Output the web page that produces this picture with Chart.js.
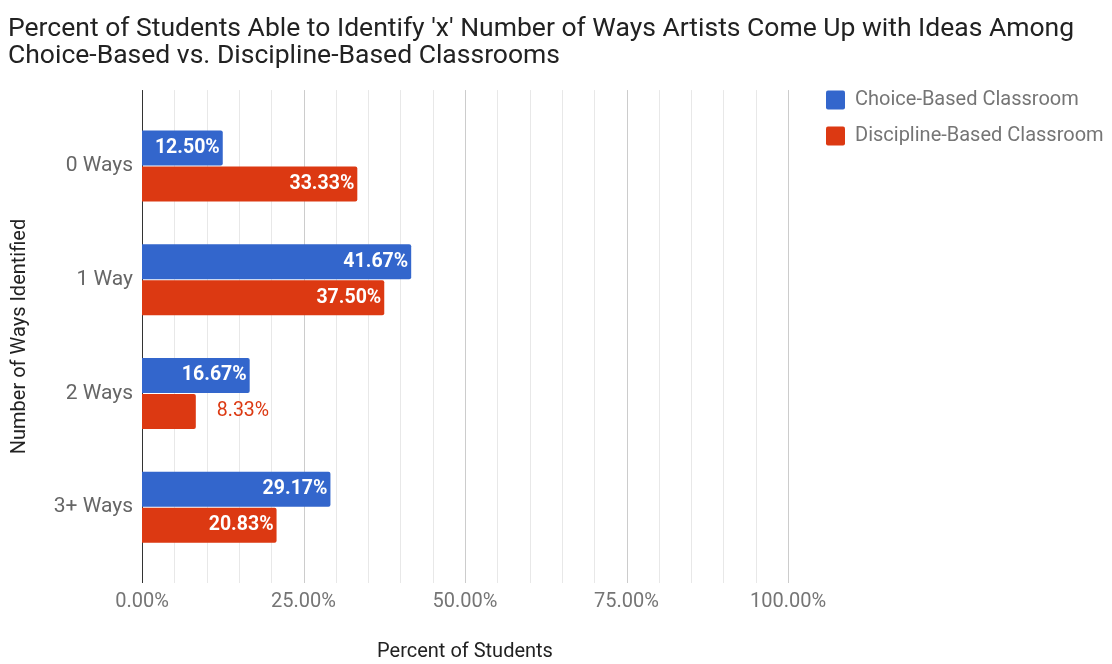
<!DOCTYPE html>
<html>
<head>
<meta charset="utf-8">
<script src="https://cdn.jsdelivr.net/npm/chart.js@4.4.1/dist/chart.umd.min.js"></script>
<style>
  html, body { margin: 0; padding: 0; background: #fff; }
  canvas { display: block; }
</style>
</head>
<body>
<canvas id="ways" width="1112" height="664"></canvas>
<script>
/* global Chart */
const categories = ['0 Ways', '1 Way', '2 Ways', '3+ Ways'];
const choiceBased = [12.5, 41.67, 16.67, 29.17];
const disciplineBased = [33.33, 37.5, 8.33, 20.83];
const seriesNames = ['Choice-Based Classroom', 'Discipline-Based Classroom'];
const seriesColors = ['#3366CC', '#DC3912'];

const LEGEND_WIDTH = 324;

Chart.defaults.font.family = 'Roboto, sans-serif';
Chart.defaults.animation = false;

// vertical grid lines, run a bit past the bar area top and bottom
const gridLines = {
  id: 'gridLines',
  beforeDatasetsDraw(chart) {
    const { ctx, chartArea, scales: { x } } = chart;
    ctx.save();
    ctx.lineWidth = 1;
    x.ticks.forEach((t) => {
      const px = Math.round(x.getPixelForValue(t.value)) + 0.5;
      if (t.value === 0) ctx.strokeStyle = '#333333';
      else if (t.value % 25 === 0) ctx.strokeStyle = '#cccccc';
      else ctx.strokeStyle = '#e8e8e8';
      ctx.beginPath();
      ctx.moveTo(px, chartArea.top - 19);
      ctx.lineTo(px, chartArea.bottom + 19);
      ctx.stroke();
    });
    ctx.restore();
  }
};

// value labels: white inside the bar, or in the series colour past its end
const barLabels = {
  id: 'barLabels',
  afterDatasetsDraw(chart) {
    const { ctx } = chart;
    ctx.save();
    ctx.textBaseline = 'middle';
    chart.data.datasets.forEach((ds, i) => {
      chart.getDatasetMeta(i).data.forEach((bar, j) => {
        const text = ds.data[j].toFixed(2) + '%';
        ctx.font = 'bold 19.5px Roboto';
        const w = ctx.measureText(text).width;
        if (w + 10 < bar.x - bar.base) {
          ctx.fillStyle = '#ffffff';
          ctx.textAlign = 'right';
          ctx.fillText(text, bar.x - 3, bar.y);
        } else {
          ctx.font = '19.5px Roboto';
          ctx.fillStyle = ds.backgroundColor;
          ctx.textAlign = 'left';
          ctx.fillText(text, bar.x + 21, bar.y);
        }
      });
    });
    ctx.restore();
  }
};

// fixed-width legend column, pinned beside the top of the plot
const legendPlace = {
  id: 'legendPlace',
  afterInit(chart) {
    const lg = chart.legend;
    const fit = lg.fit;
    lg.fit = function () {
      fit.call(this);
      this.width = LEGEND_WIDTH;
    };
  },
  afterLayout(chart) {
    const lg = chart.legend;
    const w = lg.width;
    const h = lg.height;
    lg.left = chart.chartArea.right + 22;
    lg.top = chart.chartArea.top - 35;
    lg.right = lg.left + w;
    lg.bottom = lg.top + h;
  }
};

new Chart(document.getElementById('ways'), {
  type: 'bar',
  data: {
    labels: categories,
    datasets: [
      { label: seriesNames[0], data: choiceBased, backgroundColor: seriesColors[0] },
      { label: seriesNames[1], data: disciplineBased, backgroundColor: seriesColors[1] }
    ]
  },
  plugins: [gridLines, barLabels, legendPlace],
  options: {
    responsive: false,
    indexAxis: 'y',
    layout: { padding: { left: 8, right: 0, top: 0, bottom: 0 } },
    datasets: {
      bar: {
        categoryPercentage: 0.633,
        barPercentage: 0.972,
        borderRadius: 2,
        borderSkipped: 'start'
      }
    },
    plugins: {
      title: {
        display: true,
        align: 'start',
        text: [
          "Percent of Students Able to Identify 'x' Number of Ways Artists Come Up with Ideas Among",
          'Choice-Based vs. Discipline-Based Classrooms'
        ],
        color: '#222222',
        font: { size: 26.5, weight: 'normal', lineHeight: 1.02 },
        padding: { top: 15.5, bottom: 39.5 }
      },
      legend: {
        position: 'right',
        align: 'start',
        labels: {
          boxWidth: 19,
          boxHeight: 19,
          padding: 16,
          color: '#757575',
          font: { size: 20 },
          useBorderRadius: true,
          borderRadius: 2
        }
      },
      tooltip: { enabled: false }
    },
    scales: {
      x: {
        min: 0,
        max: 100,
        grid: { display: false, drawTicks: false },
        border: { display: false },
        ticks: {
          stepSize: 5,
          autoSkip: false,
          maxRotation: 0,
          padding: 26,
          color: '#757575',
          font: { size: 20 },
          callback: (v) => (v % 25 === 0 ? v.toFixed(2) + '%' : '')
        },
        title: {
          display: true,
          text: 'Percent of Students',
          color: '#222222',
          font: { size: 20 },
          padding: 0
        }
      },
      y: {
        grid: { display: false, drawTicks: false },
        border: { display: false },
        ticks: { padding: 9, color: '#666666', font: { size: 21 } },
        title: {
          display: true,
          text: 'Number of Ways Identified',
          color: '#222222',
          font: { size: 20 },
          padding: 0
        },
        afterFit: (scale) => { scale.width = 134; }
      }
    }
  }
});
</script>
</body>
</html>
